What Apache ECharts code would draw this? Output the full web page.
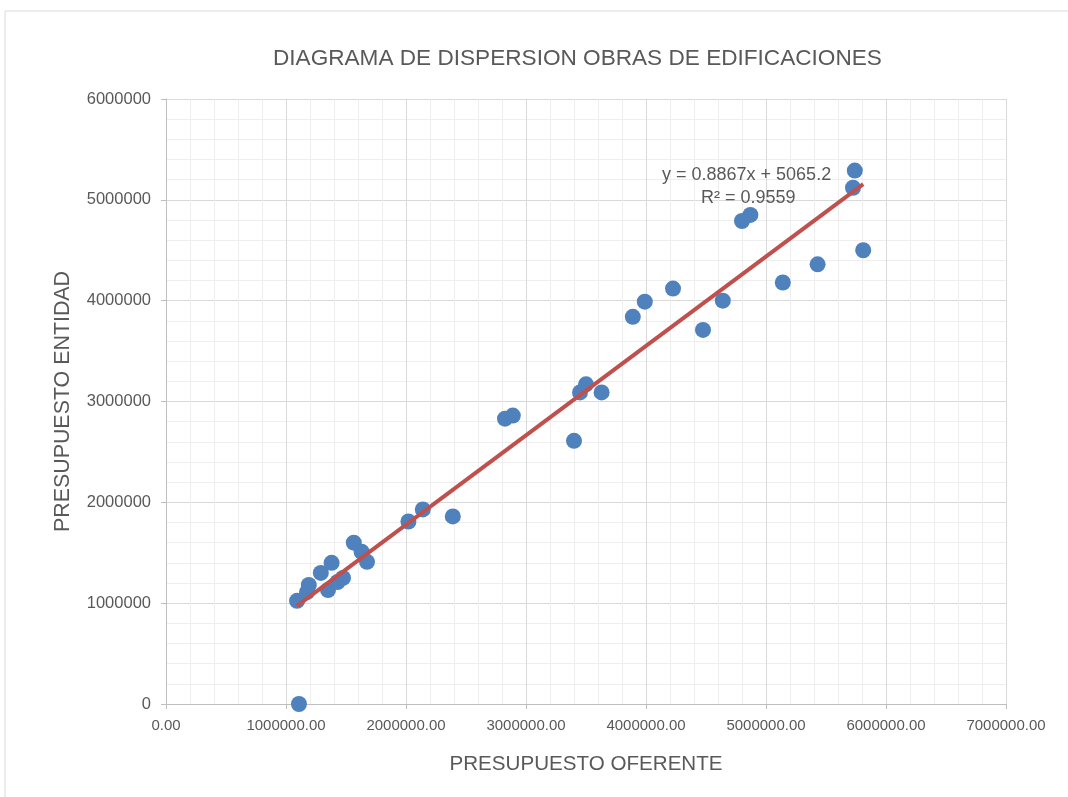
<!DOCTYPE html>
<html>
<head>
<meta charset="utf-8">
<title>Diagrama de dispersion</title>
<script src="https://cdn.jsdelivr.net/npm/echarts@6/dist/echarts.min.js"></script>
<style>
  html, body { margin: 0; padding: 0; background: #fff; }
  #main { width: 1068px; height: 797px; }
</style>
</head>
<body>
<div id="main"></div>
<script>
// presupuesto oferente (x) / presupuesto entidad (y)
var xVals = [1108000, 1092000, 1175000, 1190000, 1290000, 1350000, 1380000, 1430000, 1475000, 1565000, 1630000, 1675000,
  2020000, 2140000, 2390000, 2825000, 2890000, 3400000, 3450000, 3500000, 3630000,
  3890000, 3990000, 4225000, 4475000, 4640000, 4800000, 4870000, 5140000, 5430000, 5725000, 5740000, 5810000];
var yVals = [0, 1023000, 1110000, 1180000, 1300000, 1130000, 1400000, 1210000, 1250000, 1600000, 1510000, 1410000,
  1810000, 1930000, 1860000, 2830000, 2860000, 2610000, 3090000, 3170000, 3090000,
  3840000, 3990000, 4120000, 3710000, 4000000, 4790000, 4850000, 4180000, 4360000, 5120000, 5290000, 4500000];
var xTicks = [0, 1000000, 2000000, 3000000, 4000000, 5000000, 6000000, 7000000];
var yTicks = [0, 1000000, 2000000, 3000000, 4000000, 5000000, 6000000];
var slope = 0.8867;
var intercept = 5065.2;
var r2 = 0.9559;

var points = xVals.map(function (x, i) { return [x, yVals[i]]; });
var xMin = Math.min.apply(null, xVals);
var xMax = Math.max.apply(null, xVals);
var trend = [[xMin, slope * xMin + intercept], [xMax, slope * xMax + intercept]];

var txt = '#595959';
var font = 'Liberation Sans, Arial, sans-serif';

var myChart = echarts.init(document.getElementById('main'));
myChart.setOption({
  animation: false,
  backgroundColor: '#fff',
  title: {
    text: 'DIAGRAMA DE DISPERSION OBRAS DE EDIFICACIONES',
    left: 268,
    top: 42,
    textStyle: { color: txt, fontSize: 22.6, fontWeight: 'normal', fontFamily: font }
  },
  graphic: [{
    type: 'rect',
    shape: { x: 5, y: 11, width: 1200, height: 900 },
    style: { fill: null, stroke: '#d9d9d9', lineWidth: 1 },
    silent: true, z: -1
  }, {
    type: 'text',
    left: 662, top: 166, z: 100,
    style: { text: 'y = ' + slope + 'x + ' + intercept, fill: txt, fontSize: 18, fontFamily: font }
  }, {
    type: 'text',
    left: 701, top: 189, z: 100,
    style: { text: 'R² = ' + r2, fill: txt, fontSize: 18, fontFamily: font }
  }],
  grid: { left: 166, right: 62, top: 99, bottom: 93, containLabel: false },
  xAxis: {
    type: 'value',
    min: xTicks[0],
    max: xTicks[xTicks.length - 1],
    interval: 1000000,
    name: 'PRESUPUESTO OFERENTE',
    nameLocation: 'middle',
    nameGap: 50,
    nameTextStyle: { color: txt, fontSize: 20.6, fontFamily: font },
    axisLine: { show: true, lineStyle: { color: '#bfbfbf', width: 1 } },
    axisTick: { show: true, length: 5, lineStyle: { color: '#bfbfbf' } },
    axisLabel: {
      color: txt, fontSize: 15, fontFamily: font, margin: 14,
      formatter: function (v) { return v.toFixed(2); }
    },
    splitLine: { show: true, lineStyle: { color: '#d9d9d9', width: 1 } },
    minorTick: { show: false, splitNumber: 5 },
    minorSplitLine: { show: true, lineStyle: { color: '#eeeeee', width: 1 } }
  },
  yAxis: {
    type: 'value',
    min: yTicks[0],
    max: yTicks[yTicks.length - 1],
    interval: 1000000,
    name: 'PRESUPUESTO ENTIDAD',
    nameLocation: 'middle',
    nameGap: 92,
    nameTextStyle: { color: txt, fontSize: 21.4, fontFamily: font },
    axisLine: { show: true, lineStyle: { color: '#bfbfbf', width: 1 } },
    axisTick: { show: true, length: 5, lineStyle: { color: '#bfbfbf' } },
    axisLabel: {
      color: txt, fontSize: 16.5, fontFamily: font, margin: 15,
      formatter: function (v) { return String(v); }
    },
    splitLine: { show: true, lineStyle: { color: '#d9d9d9', width: 1 } },
    minorTick: { show: false, splitNumber: 5 },
    minorSplitLine: { show: true, lineStyle: { color: '#eeeeee', width: 1 } }
  },
  series: [{
    name: 'datos',
    type: 'scatter',
    symbol: 'circle',
    symbolSize: 16,
    itemStyle: { color: '#4f81bd', opacity: 1 },
    data: points,
    z: 2
  }, {
    name: 'tendencia',
    type: 'line',
    data: trend,
    showSymbol: false,
    symbol: 'none',
    lineStyle: { color: '#c0504d', width: 4 },
    z: 3
  }]
});
</script>
</body>
</html>
